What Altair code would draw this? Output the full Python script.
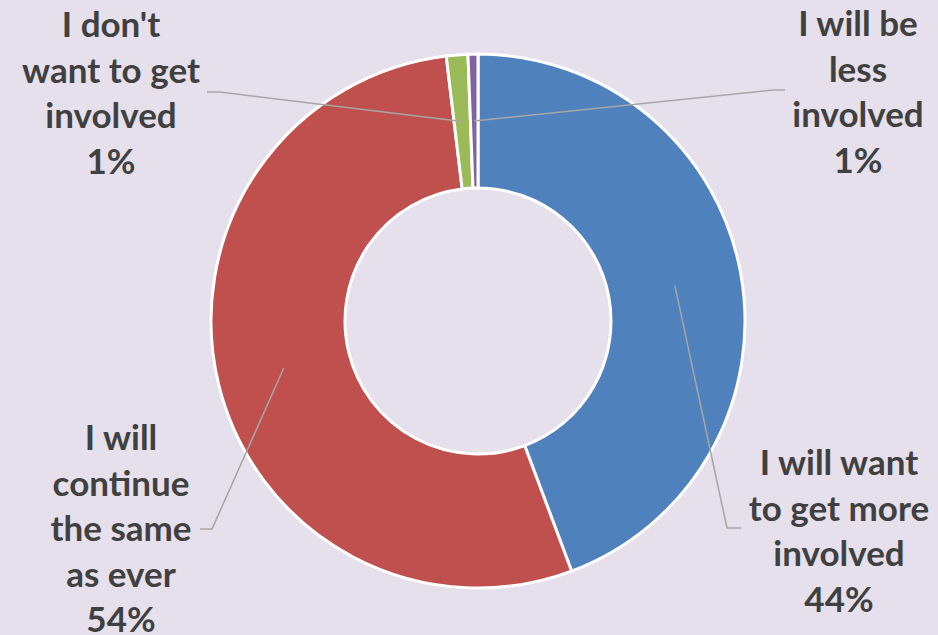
import math
import altair as alt
import pandas as pd

# ---- data ----
categories = [
    "I will want to get more involved",
    "I will continue the same as ever",
    "I don't want to get involved",
    "I will be less involved",
]
values = [44.3, 53.8, 1.3, 0.6]
pct_labels = ["44%", "54%", "1%", "1%"]
label_lines = [
    ["I will want", "to get more", "involved"],
    ["I will", "continue", "the same", "as ever"],
    ["I don't", "want to get", "involved"],
    ["I will be", "less", "involved"],
]
colors = ["#4F81BD", "#C0504D", "#9BBB59", "#8064A2"]

# ---- layout (pixels) ----
W, H = 938, 635
CX, CY = 478, 321
R_OUT, R_IN = 267, 133
R_ANCHOR = (R_OUT + R_IN) / 2
# (center x, y of first line)
label_xy = [(839, 464), (121, 439), (111, 26), (858, 25)]
elbow_xy = [[(727, 528), (741, 528)],
            [(212, 529), (200, 529)],
            [(220, 92), (207, 92)],
            [(773, 90), (785, 90)]]

pie = pd.DataFrame({"cat": categories, "value": values, "order": range(len(categories))})

# leader lines: start at each slice's mid-angle
total = sum(values)
rows = []
cum = 0.0
for i, v in enumerate(values):
    mid = (cum + v / 2) / total * 2 * math.pi
    cum += v
    ax = CX + R_ANCHOR * math.sin(mid)
    ay = CY - R_ANCHOR * math.cos(mid)
    pts = [(ax, ay)] + elbow_xy[i]
    for j, (px, py) in enumerate(pts):
        rows.append({"cat": categories[i], "seq": j, "px": px, "py": py})
lines_df = pd.DataFrame(rows)

labels_df = pd.DataFrame({
    "cat": categories,
    "text": ["\n".join(l + [p]) for l, p in zip(label_lines, pct_labels)],
    "px": [p[0] for p in label_xy],
    "py": [p[1] for p in label_xy],
})

xs = alt.Scale(domain=[0, W], range=[0, W])
ys = alt.Scale(domain=[0, H], range=[0, H])

arcs = alt.Chart(pie).mark_arc(
    outerRadius=R_OUT, innerRadius=R_IN, stroke="white", strokeWidth=3
).encode(
    theta=alt.Theta("value:Q", stack=True),
    color=alt.Color("cat:N", scale=alt.Scale(domain=categories, range=colors), legend=None),
    order=alt.Order("order:Q"),
    x=alt.value(CX),
    y=alt.value(CY),
)

leaders = alt.Chart(lines_df).mark_line(color="#A6A6A6", strokeWidth=1.5).encode(
    x=alt.X("px:Q", scale=xs, axis=None),
    y=alt.Y("py:Q", scale=ys, axis=None),
    detail="cat:N",
    order="seq:Q",
)

texts = alt.Chart(labels_df).mark_text(
    font="Lato", fontWeight="bold", fontSize=35, color="#404040",
    lineBreak="\n", lineHeight=45.5, align="center", baseline="middle",
).encode(
    x=alt.X("px:Q", scale=xs, axis=None),
    y=alt.Y("py:Q", scale=ys, axis=None),
    text="text:N",
)

chart = alt.layer(arcs, leaders, texts).properties(
    width=W, height=H, background="#E5E0EC", padding=0,
    autosize=alt.AutoSizeParams(type="none"),
).configure_view(stroke=None)

chart.save("out.html", embed_options={"renderer": "svg", "actions": False})
